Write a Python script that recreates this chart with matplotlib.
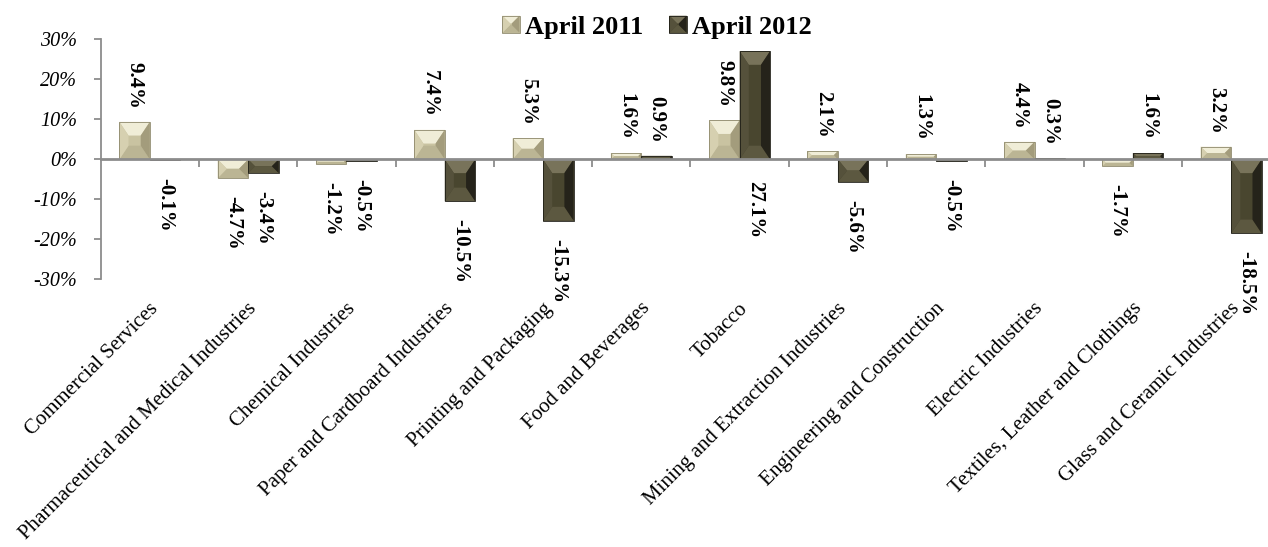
import matplotlib
matplotlib.use('Agg')
import matplotlib.pyplot as plt
import matplotlib.transforms as mtransforms
from matplotlib.patches import Polygon, Rectangle
from matplotlib.legend_handler import HandlerBase
from matplotlib.ticker import FuncFormatter, FixedLocator

plt.rcParams['font.family'] = ['Liberation Serif', 'DejaVu Serif']

categories = ['Commercial Services', 'Pharmaceutical and Medical Industries', 'Chemical Industries',
              'Paper and Cardboard Industries', 'Printing and Packaging', 'Food and Beverages', 'Tobacco',
              'Mining and Extraction Industries', 'Engineering and Construction', 'Electric Industries',
              'Textiles, Leather and Clothings', 'Glass and Ceramic Industries']
april_2011 = [9.4, -4.7, -1.2, 7.4, 5.3, 1.6, 9.8, 2.1, 1.3, 4.4, -1.7, 3.2]
april_2012 = [-0.1, -3.4, -0.5, -10.5, -15.3, 0.9, 27.1, -5.6, -0.5, 0.3, 1.6, -18.5]
series_names = ['April 2011', 'April 2012']
y_ticks = [-30, -20, -10, 0, 10, 20, 30]

# face colours for the bevelled bars
light = {'center': '#c9c3a1', 'top': '#f0edd7', 'left': '#d6d0b0', 'right': '#a39c7c',
         'bottom': '#bbb594', 'edge': '#8e896c'}
dark = {'center': '#49462f', 'top': '#78735a', 'left': '#55513b', 'right': '#25231a',
        'bottom': '#5c5840', 'edge': '#1f1e16'}


def bevel_faces(x0, y0, w, h, bx, by, c, transform, center=False):
    x1, y1 = x0 + w, y0 + h
    ix0, ix1 = x0 + bx, x1 - bx
    iy0, iy1 = y0 + by, y1 - by
    faces = []
    if center:
        faces.append(([(x0, y0), (x1, y0), (x1, y1), (x0, y1)], c['center']))
    faces += [
        ([(x0, y1), (x1, y1), (ix1, iy1), (ix0, iy1)], c['top']),
        ([(x0, y0), (x1, y0), (ix1, iy0), (ix0, iy0)], c['bottom']),
        ([(x0, y0), (x0, y1), (ix0, iy1), (ix0, iy0)], c['left']),
        ([(x1, y0), (x1, y1), (ix1, iy1), (ix1, iy0)], c['right']),
    ]
    out = [Polygon(p, closed=True, facecolor=col, edgecolor='none', transform=transform)
           for p, col in faces]
    out.append(Polygon([(x0, y0), (x1, y0), (x1, y1), (x0, y1)], closed=True, facecolor='none',
                       edgecolor=c['edge'], linewidth=0.6, transform=transform))
    return out


class BevelHandler(HandlerBase):
    def __init__(self, colors):
        super().__init__()
        self.colors = colors

    def create_artists(self, legend, orig_handle, xdescent, ydescent, width, height, fontsize, trans):
        s = min(width, height)
        x0 = -xdescent + (width - s) / 2
        y0 = -ydescent + (height - s) / 2
        return bevel_faces(x0, y0, s, s, s * 0.45, s * 0.45, self.colors, trans, center=True)


fig = plt.figure(figsize=(12.68, 5.47), dpi=100)
ax = fig.add_axes([100.7 / 1268, 1 - 279.3 / 547, 12 * 98.3 / 1268, 239.8 / 547])
ax.set_xlim(-0.5, 11.5)
ax.set_ylim(-30, 30)

x = list(range(len(categories)))
bw = 0.31
bars1 = ax.bar([i - bw / 2 for i in x], april_2011, width=bw, color=light['center'], zorder=2)
bars2 = ax.bar([i + bw / 2 for i in x], april_2012, width=bw, color=dark['center'], zorder=2)

# bevel overlay, computed from each bar's own geometry
px_x = ax.bbox.width / 12
px_y = ax.bbox.height / 60
for bars, cols in [(bars1, light), (bars2, dark)]:
    for b in bars:
        x0, w = b.get_x(), b.get_width()
        h = b.get_height()
        y0 = min(0, h)
        hh = abs(h)
        by_px = min(0.45 * w * px_x, 0.5 * hh * px_y)
        bx_px = min(by_px, 0.3 * w * px_x)
        for p in bevel_faces(x0, y0, w, hh, bx_px / px_x, by_px / px_y, cols, ax.transData):
            p.set_zorder(2.2)
            ax.add_patch(p)

# value labels
for vals, offs in [(april_2011, -bw / 2), (april_2012, bw / 2)]:
    for i, v in enumerate(vals):
        if v > 20:
            ax.annotate(f'{v:.1f}%', xy=(i + offs, 0), xytext=(0, -22), textcoords='offset pixels',
                        rotation=270, ha='center', va='top', fontsize=15, fontweight='bold')
        elif v >= 0:
            ax.annotate(f'{v:.1f}%', xy=(i + offs, v), xytext=(0, 13), textcoords='offset pixels',
                        rotation=270, ha='center', va='bottom', fontsize=15, fontweight='bold')
        else:
            ax.annotate(f'{v:.1f}%', xy=(i + offs, v), xytext=(0, -18), textcoords='offset pixels',
                        rotation=270, ha='center', va='top', fontsize=15, fontweight='bold')

# axes styling
grey = '#8c8c8c'
for s in ['top', 'right']:
    ax.spines[s].set_visible(False)
ax.spines['left'].set_color(grey)
ax.spines['left'].set_linewidth(1.3)
ax.spines['bottom'].set_position(('data', 0))
ax.spines['bottom'].set_color(grey)
ax.spines['bottom'].set_linewidth(2)
ax.spines['bottom'].set_zorder(3)

ax.yaxis.set_major_locator(FixedLocator(y_ticks))
ax.yaxis.set_major_formatter(FuncFormatter(lambda v, p: f'{v:.0f}%'))
ax.tick_params(axis='y', direction='out', length=5, width=1.3, color=grey, pad=12, labelsize=14.5)
for t in ax.get_yticklabels():
    t.set_fontstyle('italic')

ax.xaxis.set_major_locator(FixedLocator([i + 0.5 for i in x]))
ax.tick_params(axis='x', direction='out', length=6, width=1.3, color=grey, labelbottom=False)

trans = mtransforms.blended_transform_factory(ax.transData, ax.transAxes)
for i, name in enumerate(categories):
    ax.text(i + 0.06, -0.11, name, transform=trans, rotation=45, rotation_mode='anchor',
            ha='right', va='center', fontsize=15)

# legend
h1 = Rectangle((0, 0), 1, 1)
h2 = Rectangle((0, 0), 1, 1)
fig.legend([h1, h2], series_names, handler_map={h1: BevelHandler(light), h2: BevelHandler(dark)},
           loc='center', bbox_to_anchor=(657 / 1268, 1 - 27 / 547), ncol=2, frameon=False,
           prop={'size': 19, 'weight': 'bold'}, handlelength=0.65, handleheight=0.65,
           handletextpad=0.2, columnspacing=1.0)

fig.savefig('out.png', dpi=100)
